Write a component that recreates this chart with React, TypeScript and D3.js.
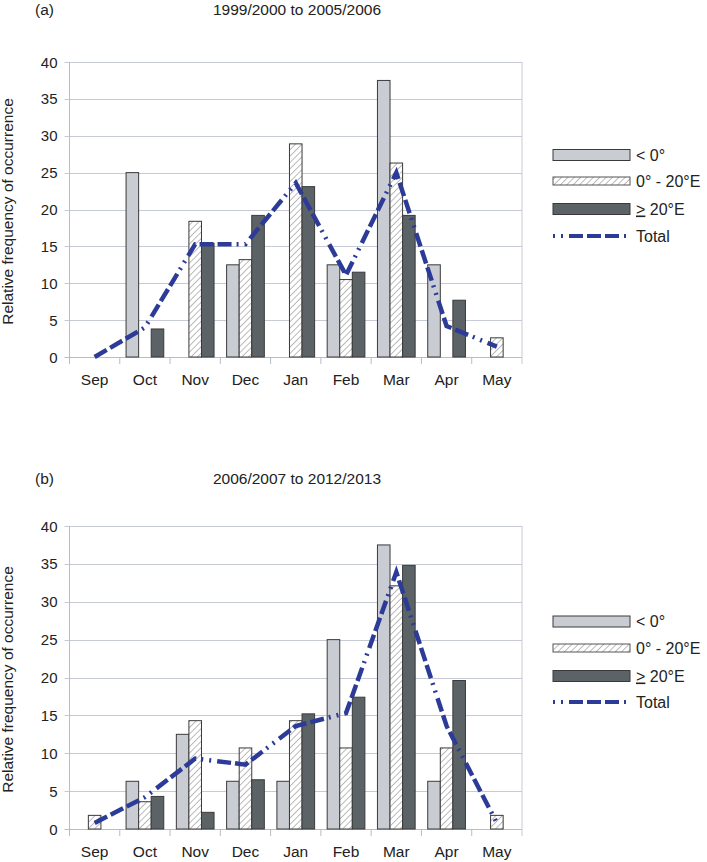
import React from "react";
import * as d3 from "d3";

const months = ["Sep", "Oct", "Nov", "Dec", "Jan", "Feb", "Mar", "Apr", "May"];
const seriesKeys = ["lt0", "mid", "ge20"];
const legendLabels = ["< 0°", "0° - 20°E", "20°E", "Total"];
const yTicks = [0, 5, 10, 15, 20, 25, 30, 35, 40];

// Panel (a) 1999/2000 to 2005/2006
const aLt0 = [0, 25, 0, 12.5, 0, 12.5, 37.5, 12.5, 0];
const aMid = [0, 0, 18.4, 13.2, 28.9, 10.5, 26.3, 0, 2.6];
const aGe20 = [0, 3.8, 15.4, 19.2, 23.1, 11.5, 19.2, 7.7, 0];
const aTotal = [0, 4.0, 15.3, 15.3, 23.6, 11.1, 25, 4.2, 1.4];

// Panel (b) 2006/2007 to 2012/2013
const bLt0 = [0, 6.3, 12.5, 6.3, 6.3, 25, 37.5, 6.3, 0];
const bMid = [1.8, 3.6, 14.3, 10.7, 14.3, 10.7, 32.1, 10.7, 1.8];
const bGe20 = [0, 4.3, 2.2, 6.5, 15.2, 17.4, 34.8, 19.6, 0];
const bTotal = [0.8, 4.2, 9.3, 8.5, 13.6, 15.3, 33.9, 13.6, 0.8];

const FONT = "'Liberation Sans', Arial, Helvetica, sans-serif";
const GRID = "#c6cad4";
const AXIS = "#b8bcc6";
const LIGHT = "#c9cdd3";
const DARK = "#5b6366";
const LINE = "#2d3b98";
const DASH = "14,4,14,4,14,5,2,6,2,6";
const TEXT = "#222";

type PanelProps = {
  letter: string;
  title: string;
  offsetY: number;
  y0: number;
  y40: number;
  lt0: number[];
  mid: number[];
  ge20: number[];
  total: number[];
  legendY: number[];
};

function Panel(p: PanelProps) {
  const left = 69.5;
  const right = 522;
  const x0 = d3.scaleBand<string>().domain(months).range([left, right]).padding(0);
  const bw = x0.bandwidth();
  const x1 = d3.scaleBand<string>().domain(seriesKeys).range([bw * 0.125, bw * 0.875]).padding(0);
  const y = d3.scaleLinear().domain([0, 40]).range([p.y0, p.y40]);
  const data: Record<string, number[]> = { lt0: p.lt0, mid: p.mid, ge20: p.ge20 };
  const fills: Record<string, string> = { lt0: LIGHT, mid: "url(#hatch)", ge20: DARK };

  const line = d3
    .line<number>()
    .x((_, i) => (x0(months[i]) as number) + bw / 2)
    .y((d) => y(d));

  return (
    <g>
      <text x={35} y={p.offsetY + 15} fontSize={15.5} fill={TEXT} fontFamily={FONT}>
        {p.letter}
      </text>
      <text x={297} y={p.offsetY + 15} fontSize={15.5} fill={TEXT} fontFamily={FONT} textAnchor="middle">
        {p.title}
      </text>
      {/* grid */}
      {yTicks.map((t) => (
        <g key={t}>
          <line x1={left - 5} x2={right} y1={Math.round(y(t)) + 0.5} y2={Math.round(y(t)) + 0.5} stroke={t === 0 ? AXIS : GRID} strokeWidth={1} />
          <text x={57.5} y={y(t) + 5.5} fontSize={15} fill={TEXT} fontFamily={FONT} textAnchor="end">
            {t}
          </text>
        </g>
      ))}
      {/* axes */}
      <line x1={left} x2={left} y1={y(40)} y2={y(0) + 7} stroke={AXIS} strokeWidth={1} />
      <line x1={right} x2={right} y1={y(40)} y2={y(0) + 7} stroke={GRID} strokeWidth={1} />
      {months.map((m, i) =>
        i > 0 ? (
          <line key={m} x1={x0(m) as number} x2={x0(m) as number} y1={y(0)} y2={y(0) + 7} stroke={AXIS} strokeWidth={1} />
        ) : null
      )}
      {months.map((m) => (
        <text key={m} x={(x0(m) as number) + bw / 2} y={y(0) + 28} fontSize={15.5} fill={TEXT} fontFamily={FONT} textAnchor="middle">
          {m}
        </text>
      ))}
      {/* bars */}
      {seriesKeys.map((k) =>
        data[k].map((v, i) =>
          v > 0 ? (
            <rect
              key={k + i}
              x={(x0(months[i]) as number) + (x1(k) as number)}
              y={y(v)}
              width={x1.bandwidth()}
              height={y(0) - y(v)}
              fill={fills[k]}
              stroke="#3a3a3a"
              strokeWidth={1}
            />
          ) : null
        )
      )}
      {/* total line */}
      <path d={line(p.total) || ""} fill="none" stroke={LINE} strokeWidth={4.5} strokeDasharray={DASH} />
      {/* legend */}
      <rect x={553} y={p.legendY[0] - 5.5} width={77} height={11} fill={LIGHT} stroke="#3a3a3a" strokeWidth={1} />
      <rect x={553} y={p.legendY[1] - 4} width={77} height={8} fill="url(#hatch)" stroke="#555" strokeWidth={1} />
      <rect x={553} y={p.legendY[2] - 5.5} width={77} height={11} fill={DARK} stroke="#3a3a3a" strokeWidth={1} />
      <line x1={553} x2={630} y1={p.legendY[3]} y2={p.legendY[3]} stroke={LINE} strokeWidth={4} strokeDasharray="2,6,2,6,14,4,14,4,14,5" />
      <text x={636} y={p.legendY[0] + 5.5} fontSize={16} fill={TEXT} fontFamily={FONT}>
        {legendLabels[0]}
      </text>
      <text x={636} y={p.legendY[1] + 5.5} fontSize={16} fill={TEXT} fontFamily={FONT}>
        {legendLabels[1]}
      </text>
      <text x={636} y={p.legendY[2] + 5.5} fontSize={16} fill={TEXT} fontFamily={FONT}>
        <tspan textDecoration="underline">&gt;</tspan>
        {" " + legendLabels[2]}
      </text>
      <text x={636} y={p.legendY[3] + 5.5} fontSize={16} fill={TEXT} fontFamily={FONT}>
        {legendLabels[3]}
      </text>
      {/* y label */}
      <text
        transform={`translate(13,${(p.y0 + p.y40) / 2 + 2}) rotate(-90)`}
        fontSize={15.5}
        fill={TEXT}
        fontFamily={FONT}
        textAnchor="middle"
      >
        Relative frequency of occurrence
      </text>
    </g>
  );
}

export default function App() {
  return (
    <svg
      width={707}
      height={862}
      style={{ position: "absolute", left: 0, top: 0, background: "#fff" }}
      xmlns="http://www.w3.org/2000/svg"
    >
      <defs>
        <pattern id="hatch" patternUnits="userSpaceOnUse" width={4.5} height={4.5} patternTransform="rotate(45)">
          <rect width={4.5} height={4.5} fill="#fff" />
          <line x1={0} y1={0} x2={0} y2={4.5} stroke="#6a6a6a" strokeWidth={0.9} />
        </pattern>
      </defs>
      <rect width={707} height={862} fill="#fff" />
      <Panel
        letter="(a)"
        title="1999/2000 to 2005/2006"
        offsetY={0}
        y0={357}
        y40={62}
        lt0={aLt0}
        mid={aMid}
        ge20={aGe20}
        total={aTotal}
        legendY={[155, 181, 209, 236]}
      />
      <Panel
        letter="(b)"
        title="2006/2007 to 2012/2013"
        offsetY={469}
        y0={829}
        y40={526}
        lt0={bLt0}
        mid={bMid}
        ge20={bGe20}
        total={bTotal}
        legendY={[621.5, 648, 676, 702]}
      />
    </svg>
  );
}
